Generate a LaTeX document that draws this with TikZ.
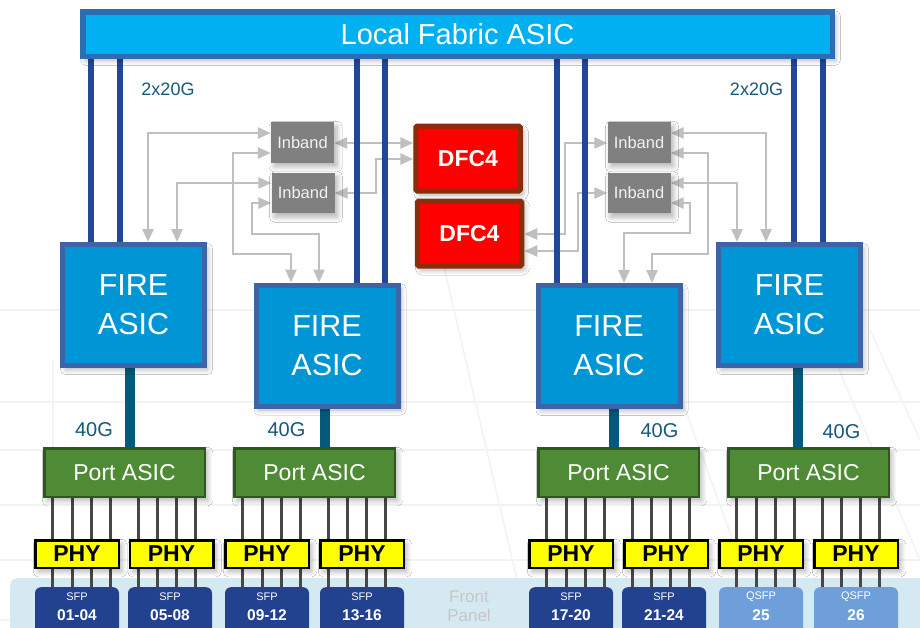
\documentclass[tikz,border=0pt]{standalone}
\usepackage{fontspec}
\setmainfont{Liberation Sans}
\usetikzlibrary{arrows.meta,shadows.blur,calc}
\definecolor{lfblue}{HTML}{00B0F0}
\definecolor{lfborder}{HTML}{2E6CB4}
\definecolor{busblue}{HTML}{214796}
\definecolor{fireblue}{HTML}{0096D6}
\definecolor{fireborder}{HTML}{3E64A7}
\definecolor{tealline}{HTML}{035A7C}
\definecolor{lbltext}{HTML}{15597A}
\definecolor{inbgray}{HTML}{808080}
\definecolor{inbtext}{HTML}{F2F2F2}
\definecolor{dfcred}{HTML}{FF0000}
\definecolor{dfcborder}{HTML}{8A2D0B}
\definecolor{portgreen}{HTML}{4F8B34}
\definecolor{portborder}{HTML}{2C5A1E}
\definecolor{phyyellow}{HTML}{FFFF00}
\definecolor{sfpdark}{HTML}{22418F}
\definecolor{sfplight}{HTML}{6E9FDA}
\definecolor{arrgray}{HTML}{BFBFBF}
\definecolor{pingray}{HTML}{474747}
\definecolor{panelblue}{HTML}{D5E9F2}
\definecolor{paneltext}{HTML}{C6C6C6}
\definecolor{gridgray}{HTML}{F3F3F3}
\pgfdeclarelayer{bg}
\pgfdeclarelayer{arr}
\pgfdeclarelayer{lines}
\pgfsetlayers{bg,arr,lines,main}
\tikzset{
  box/.style={inner sep=0pt, align=center, text=white},
  shad/.style={blur shadow={shadow xshift=3pt, shadow yshift=-4pt, shadow blur radius=5pt, shadow blur steps=8, shadow opacity=30}},
  lfbox/.style={box, shad, fill=lfblue, draw=lfborder, line width=5.5pt, minimum width=749.5pt, minimum height=44.5pt, font=\fontsize{29}{33}\selectfont},
  firebox/.style={box, shad, fill=fireblue, draw=fireborder, line width=5pt, minimum width=142pt, minimum height=121pt, font=\fontsize{30.5}{39}\selectfont},
  inbbox/.style={box, shad, fill=inbgray, text=inbtext, minimum width=63pt, minimum height=40.5pt, font=\fontsize{16.5}{18}\selectfont},
  dfcbox/.style={box, shad, fill=dfcred, draw=dfcborder, line width=5pt, rounded corners=1.5pt, minimum width=104.5pt, minimum height=65pt, font=\bfseries\fontsize{23}{26}\selectfont},
  portbox/.style={box, shad, fill=portgreen, draw=portborder, line width=2.5pt, minimum width=160.5pt, minimum height=48.5pt, font=\fontsize{23}{26}\selectfont},
  phybox/.style={box, shad, fill=phyyellow, draw=black, line width=2.5pt, text=black, minimum width=83.5pt, minimum height=27.5pt, font=\bfseries\fontsize{23}{26}\selectfont},
  sfpbox/.style={inner sep=0pt, anchor=north, rounded corners=6pt, minimum width=84pt, minimum height=46pt},
  sfptext/.style={inner sep=0pt, align=center, text=white},
  lbl/.style={inner sep=0pt, text=lbltext},
  garrow/.style={draw=arrgray, line width=2.5pt, arrows={Triangle[length=13pt,width=11pt]-Triangle[length=13pt,width=11pt]}},
  bus/.style={draw=busblue, line width=5.5pt},
  thick40/.style={draw=tealline, line width=10pt},
  pinline/.style={draw=pingray, line width=3pt},
  gridline/.style={draw=gridgray, line width=1.5pt}
}
\begin{document}
\begin{tikzpicture}[x=1pt,y=-1pt]
\useasboundingbox (0,0) rectangle (920,627);

% main blocks
\node[lfbox] (lf) at (457.5,34) {Local Fabric ASIC};
\node[firebox] (fire1) at (133.5,305) {FIRE\\ASIC};
\node[firebox] (fire2) at (327,345.5) {FIRE\\ASIC};
\node[firebox] (fire3) at (609,346) {FIRE\\ASIC};
\node[firebox] (fire4) at (789.5,305) {FIRE\\ASIC};

\node[inbbox] (inb1) at (302.5,142.5) {Inband};
\node[inbbox] (inb2) at (303,193) {Inband};
\node[inbbox] (inb3) at (639,142.5) {Inband};
\node[inbbox] (inb4) at (639,193) {Inband};

\node[dfcbox] (dfc1) at (468,158.5) {DFC4};
\node[dfcbox] (dfc2) at (469.5,233.5) {DFC4};

\node[portbox] (port1) at (124.5,472.5) {Port ASIC};
\node[portbox] (port2) at (314.5,472.5) {Port ASIC};
\node[portbox] (port3) at (618.5,472.5) {Port ASIC};
\node[portbox] (port4) at (808.5,472.5) {Port ASIC};

\foreach \i/\x in {1/77,2/171.5,3/267,4/362,5/571,6/666,7/761,8/856}
  \node[phybox] (phy\i) at (\x,554) {PHY};

\foreach \i/\x/\c/\t/\n in {1/77/sfpdark/SFP/01-04,2/170/sfpdark/SFP/05-08,3/267/sfpdark/SFP/09-12,4/362/sfpdark/SFP/13-16,5/571/sfpdark/SFP/17-20,6/664/sfpdark/SFP/21-24,7/761/sfplight/QSFP/25,8/856/sfplight/QSFP/26}{
  \node[sfpbox, fill=\c] (sfp\i) at (\x,587) {};
  \node[sfptext] (sfpt\i) at ($(sfp\i.north)+(0,10)$) {\fontsize{11}{12}\selectfont \t};
  \node[sfptext] (sfpn\i) at ($(sfp\i.north)+(0,28.5)$) {\bfseries\fontsize{15.5}{17}\selectfont \n};
}

% labels
\node[lbl, font=\fontsize{18}{20}\selectfont] (bw1) at (168,89) {2x20G};
\node[lbl, font=\fontsize{18}{20}\selectfont] (bw2) at (756.5,89) {2x20G};
\node[lbl, font=\fontsize{20}{22}\selectfont] (g1) at (94,429.5) {40G};
\node[lbl, font=\fontsize{20}{22}\selectfont] (g2) at (286.5,429.5) {40G};
\node[lbl, font=\fontsize{20}{22}\selectfont] (g3) at (659.5,431) {40G};
\node[lbl, font=\fontsize{20}{22}\selectfont] (g4) at (841.5,431.5) {40G};

% background
\begin{pgfonlayer}{bg}
  \fill[white] (0,0) rectangle (920,627);
  \foreach \y in {310,402,450,505,560,620}
    \draw[gridline] (0,\y) -- (920,\y);
  \draw[gridline] (53,360) -- (53,578);
  \draw[gridline] (440,250) -- (528,627);
  \draw[gridline] (835,360) -- (920,560);
  \draw[gridline] (870,330) -- (920,440);
  \draw[gridline] (680,395) -- (740,560);
  \fill[panelblue, rounded corners=8pt] (10,578) rectangle (940,650);
  \node[inner sep=0pt, align=center, text=paneltext, font=\fontsize{17}{19}\selectfont] (fp) at (469,606.5) {Front\\Panel};
\end{pgfonlayer}

% inband arrows
\begin{pgfonlayer}{arr}
  \draw[garrow] (148,0 |- fire1.north) |- (inb1.west |- 0,133);
  \draw[garrow] (177,0 |- fire1.north) |- (inb2.west |- 0,183);
  \draw[garrow] (inb1.west |- 0,153) -| (233,254) -| (291,0 |- fire2.north);
  \draw[garrow] (inb2.west |- 0,203) -| (252,234) -| (319,0 |- fire2.north);
  \draw[garrow] (inb1.east |- 0,143) -- (dfc1.west |- 0,143);
  \draw[garrow] (inb2.east) -| (376,159) -- (dfc1.west |- 0,159);
  \draw[garrow] (dfc2.east |- 0,234) -| (565,143) -- (inb3.west |- 0,143);
  \draw[garrow] (dfc2.east |- 0,251) -| (578,193) -- (inb4.west);
  \draw[garrow] (inb3.east |- 0,133) -| (766,0 |- fire4.north);
  \draw[garrow] (inb3.east |- 0,153) -| (708,254) -| (652,0 |- fire3.north);
  \draw[garrow] (inb4.east |- 0,183) -| (737,0 |- fire4.north);
  \draw[garrow] (inb4.east |- 0,203) -| (690,233) -| (624,0 |- fire3.north);
\end{pgfonlayer}

% buses, uplinks, pins
\begin{pgfonlayer}{lines}
  \foreach \x/\f in {91/fire1,120/fire1,357/fire2,385/fire2,557/fire3,585/fire3,794/fire4,823/fire4}
    \draw[bus] (\x,0 |- lf.south) -- (\x,0 |- \f.north);
  \draw[thick40] (130,0 |- fire1.south) -- (130,0 |- port1.north);
  \draw[thick40] (325,0 |- fire2.south) -- (325,0 |- port2.north);
  \draw[thick40] (614,0 |- fire3.south) -- (614,0 |- port3.north);
  \draw[thick40] (798,0 |- fire4.south) -- (798,0 |- port4.north);
  \foreach \p/\a/\b in {port1/sfp1/sfp2,port2/sfp3/sfp4,port3/sfp5/sfp6,port4/sfp7/sfp8}{
    \foreach \o in {9.5,29,48,67}{
      \path ([xshift=\o pt]\p.south west) coordinate (pa);
      \draw[pinline] (pa) -- ([yshift=-3pt]pa |- \a.north);
    }
    \foreach \o in {95.5,114.5,133.5,152.5}{
      \path ([xshift=\o pt]\p.south west) coordinate (pb);
      \draw[pinline] (pb) -- ([yshift=-3pt]pb |- \b.north);
    }
  }
\end{pgfonlayer}
\end{tikzpicture}
\end{document}
